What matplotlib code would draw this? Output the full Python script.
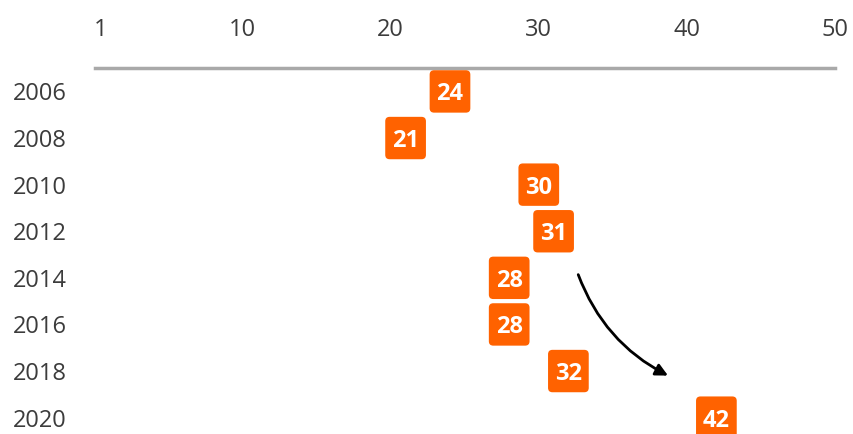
import matplotlib.pyplot as plt
from matplotlib.patches import FancyBboxPatch

# Data
years = [2006, 2008, 2010, 2012, 2014, 2016, 2018, 2020]
ranks = [24, 21, 30, 31, 28, 28, 32, 42]
x_ticks = [0.4, 10, 20, 30, 40, 50]
x_labels = ['1', '10', '20', '30', '40', '50']

orange = '#FF6200'
label_color = '#3c3c3c'

fig = plt.figure(figsize=(8.54, 4.34), dpi=100)
ax = fig.add_axes([0.111, -0.016, 0.8665, 0.859])

ax.set_xlim(0, 50)
ax.set_ylim(2021, 2005)

# boxes with the rank inside
box_w = 2.75
box_h = 1.82
for yr, r in zip(years, ranks):
    patch = FancyBboxPatch((r - box_w / 2, yr - box_h / 2), box_w, box_h,
                           boxstyle='round,pad=0,rounding_size=0.3',
                           mutation_aspect=0.63,
                           facecolor=orange, edgecolor='none', zorder=3)
    ax.add_patch(patch)
    ax.text(r, yr + 0.13, str(r), ha='center', va='center', color='white',
            fontsize=17, fontweight='bold', family='Open Sans', zorder=4)

# curved arrow
ax.annotate('', xy=(38.9, 2018.25), xytext=(32.6, 2013.75),
            arrowprops=dict(arrowstyle='-|>', color='black', lw=2,
                            mutation_scale=18,
                            connectionstyle='arc3,rad=0.2'))

# axes styling
ax.set_xticks(x_ticks)
ax.set_xticklabels(x_labels)
ax.set_yticks(years)
ax.set_yticklabels([str(y) for y in years])
ax.xaxis.tick_top()
ax.tick_params(axis='both', length=0, labelsize=17, labelcolor=label_color)
ax.tick_params(axis='x', pad=19)
ax.tick_params(axis='y', pad=20)
for t in ax.get_xticklabels() + ax.get_yticklabels():
    t.set_fontfamily('Open Sans')

for s in ['left', 'right', 'bottom']:
    ax.spines[s].set_visible(False)
ax.spines['top'].set_color('#a9a9a9')
ax.spines['top'].set_linewidth(2.5)

fig.savefig('out.png', dpi=100)
